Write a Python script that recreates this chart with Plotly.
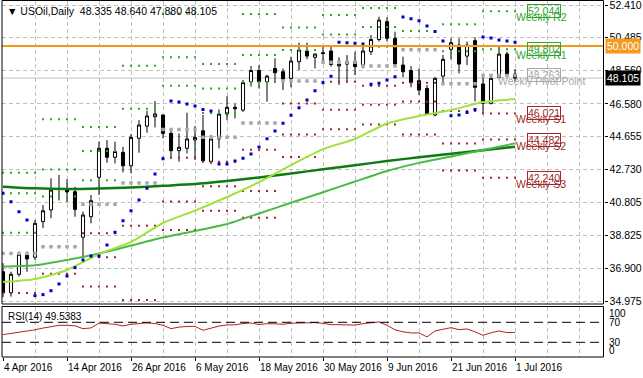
import plotly.graph_objects as go

W, H = 643, 378
def px(x): return x / W
def py(y): return 1 - y / H

FONT = "Liberation Sans, Arial, sans-serif"

# ---------------- data ----------------
date_labels = ["4 Apr 2016", "14 Apr 2016", "26 Apr 2016", "6 May 2016", "18 May 2016",
               "30 May 2016", "9 Jun 2016", "21 Jun 2016", "1 Jul 2016"]
date_label_bars = [0, 8, 16, 24, 32, 40, 48, 56, 64]

opens = [36.70, 35.46, 36.55, 37.68, 37.55,
         39.65, 40.34, 41.55, 41.55, 41.41,
         38.73, 39.94, 42.26, 43.97, 43.44,
         43.73, 42.94, 44.56, 45.28, 45.83,
         45.93, 44.85, 43.83, 43.97, 44.46,
         45.00, 43.18, 44.52, 45.99, 46.38,
         46.22, 47.89, 48.55, 47.89, 48.67,
         48.48, 48.09, 49.07, 49.70, 49.33,
         49.60, 49.70, 48.82, 48.93, 49.07,
         48.87, 49.66, 50.38, 51.43, 50.44,
         48.87, 48.55, 47.95, 47.50, 45.93,
         48.22, 49.80, 50.05, 49.40, 50.31,
         47.76, 46.62, 48.15, 49.52, 48.335]
highs = [37.20, 36.70, 37.88, 37.88, 39.75,
         40.63, 42.20, 42.40, 42.15, 41.70,
         40.24, 41.22, 44.36, 44.45, 44.36,
         44.06, 44.81, 45.63, 46.18, 46.75,
         45.95, 45.09, 44.85, 46.06, 45.28,
         45.93, 44.75, 46.26, 47.04, 46.60,
         48.00, 48.82, 48.87, 48.30, 49.27,
         48.67, 49.36, 50.19, 50.19, 49.55,
         49.96, 49.99, 49.33, 49.46, 49.66,
         50.05, 50.64, 51.72, 51.68, 50.84,
         49.36, 48.82, 48.67, 47.70, 48.15,
         49.46, 50.44, 50.44, 50.25, 50.505,
         48.15, 48.12, 50.05, 49.66, 48.640]
lows = [35.20, 35.23, 36.41, 36.70, 37.39,
        39.27, 39.85, 40.90, 40.80, 39.94,
        37.55, 39.55, 41.22, 43.12, 43.08,
        42.55, 42.50, 43.71, 44.89, 45.20,
        44.56, 43.38, 43.18, 43.67, 43.28,
        43.18, 43.04, 43.97, 45.63, 45.73,
        46.12, 47.60, 47.50, 46.71, 47.89,
        47.40, 47.56, 48.58, 49.21, 48.67,
        49.07, 48.78, 47.70, 47.89, 48.28,
        48.67, 49.46, 50.25, 50.25, 48.78,
        48.15, 47.56, 47.11, 45.93, 45.85,
        47.70, 49.21, 48.38, 48.87, 46.724,
        46.03, 46.55, 48.09, 48.22, 47.880]
closes = [35.45, 36.55, 37.73, 37.45, 39.55,
          40.29, 41.51, 41.60, 41.40, 40.37,
          40.04, 40.88, 43.97, 43.44, 43.78,
          42.94, 44.61, 45.34, 45.87, 45.99,
          44.85, 43.83, 44.03, 44.52, 44.61,
          43.24, 44.52, 45.99, 46.38, 46.30,
          47.84, 48.55, 47.89, 48.22, 48.42,
          48.05, 49.11, 49.76, 49.40, 49.52,
          49.55, 48.91, 48.93, 49.07, 48.78,
          49.70, 50.38, 51.52, 50.45, 48.93,
          48.48, 47.84, 47.40, 45.99, 48.09,
          49.21, 50.19, 48.93, 50.05, 47.56,
          46.62, 48.09, 49.52, 48.335, 48.105]

# previous week (28 Mar - 1 Apr) high / low / close for the first weekly pivot
prev_week_high, prev_week_low, prev_week_close = 40.11, 36.57, 36.66

sar = [41.32, 40.82, 40.23, 39.75, 35.29,
       35.35, 35.58, 35.98, 36.45, 36.94,
       37.39, 37.62, 37.62, 38.27, 39.02,
       39.70, 40.29, 40.92, 41.61, 42.45,
       43.36, 46.75, 46.69, 46.58, 46.46,
       46.26, 46.16, 43.04, 43.04, 43.22,
       43.38, 43.63, 44.05, 44.53, 44.99,
       45.44, 45.91, 46.36, 46.81, 47.36,
       47.83, 48.22, 50.21, 50.19, 50.15,
       50.12, 47.74, 47.80, 47.99, 48.18,
       51.70, 51.60, 51.48, 51.17, 50.85,
       50.29, 45.89, 45.93, 46.08, 46.26,
       50.52, 50.46, 50.35, 50.29, 50.21]

ma_bars = [0, 4, 8, 12, 16, 20, 24, 28, 32, 36, 40, 44, 48, 52, 56, 60, 64]
ma_slow = [41.71, 41.61, 41.57, 41.60, 41.66, 41.76, 41.86, 42.04, 42.25, 42.49,
           42.73, 42.97, 43.22, 43.44, 43.65, 43.86, 44.06]
ma_mid = [37.00, 37.08, 37.39, 37.77, 38.24, 38.71, 39.10, 39.51, 40.13, 40.76,
          41.38, 42.01, 42.63, 43.11, 43.49, 43.87, 44.26]
ma_fast = [36.09, 36.27, 36.80, 37.74, 38.45, 39.57, 40.30, 41.10, 41.98, 42.98,
           43.92, 44.52, 45.43, 45.87, 46.22, 46.69, 46.87]

rsi = [45.3, 47.5, 50.0, 52.0, 55.0, 58.5, 61.0, 64.0, 64.0, 63.0,
       57.3, 58.7, 68.5, 67.5, 66.0, 62.7, 66.0, 67.5, 68.7, 67.5,
       64.0, 57.3, 60.5, 61.5, 62.0, 54.0, 58.5, 62.5, 64.7, 65.0,
       67.5, 68.7, 65.5, 67.3, 67.0, 66.0, 68.2, 69.0, 69.2, 69.3,
       68.0, 65.3, 65.3, 64.8, 64.3, 67.3, 69.0, 70.7, 64.0, 55.0,
       51.0, 48.7, 48.7, 40.7, 52.7, 56.0, 59.3, 55.3, 56.7, 51.0,
       44.0, 49.0, 52.7, 49.5, 49.5383]

price_ticks = [52.410, 50.485, 48.560, 46.580, 44.655, 42.730, 40.805, 38.825, 36.900, 34.975]
rsi_levels = [70, 30]
hline_level = 50.000

bars = list(range(len(closes)))

# weekly pivots (from prior week H/L/C)
week_hlc = [(prev_week_high, prev_week_low, prev_week_close)]
for w in range(1, len(closes) // 5):
    seg_h = highs[5 * (w - 1):5 * w]
    seg_l = lows[5 * (w - 1):5 * w]
    week_hlc.append((max(seg_h), min(seg_l), closes[5 * w - 1]))

def pivots(h, l, c):
    pp = (h + l + c) / 3
    return {"R3": h + 2 * (pp - l), "R2": pp + (h - l), "R1": 2 * pp - l, "PP": pp,
            "S1": 2 * pp - h, "S2": pp - (h - l), "S3": l - 2 * (h - pp)}

lvl_names = ["R3", "R2", "R1", "PP", "S1", "S2", "S3"]
lvl_x = {k: [] for k in lvl_names}
lvl_y = {k: [] for k in lvl_names}
for w, (h, l, c) in enumerate(week_hlc):
    pv = pivots(h, l, c)
    for b in range(5 * w, 5 * w + 5):
        for k in lvl_names:
            lvl_x[k].append(b)
            lvl_y[k].append(pv[k])
last_pv = pivots(*week_hlc[-1])

# ---------------- colours ----------------
C_R = "#2FA52F"
C_S = "#9E2A2B"
C_PP = "#A8A8A8"
C_GRID = "#C0C0C0"

fig = go.Figure()

fig.add_trace(go.Candlestick(
    x=bars, open=opens, high=highs, low=lows, close=closes,
    increasing=dict(line=dict(color="black", width=1), fillcolor="white"),
    decreasing=dict(line=dict(color="black", width=1), fillcolor="black"),
    whiskerwidth=0, hoverinfo="skip", showlegend=False, xaxis="x", yaxis="y"))

for k in lvl_names:
    if k == "PP":
        col, size = C_PP, 3.5
    elif k.startswith("R"):
        col, size = C_R, 2
    else:
        col, size = C_S, 2
    fig.add_trace(go.Scatter(x=lvl_x[k], y=lvl_y[k], mode="markers",
                             marker=dict(symbol="square", size=size, color=col, line=dict(width=0)),
                             hoverinfo="skip", showlegend=False, xaxis="x", yaxis="y"))

fig.add_trace(go.Scatter(x=ma_bars, y=ma_slow, mode="lines",
                         line=dict(color="#0E7A12", width=2.5, shape="spline", smoothing=0.6),
                         hoverinfo="skip", showlegend=False))
fig.add_trace(go.Scatter(x=ma_bars, y=ma_mid, mode="lines",
                         line=dict(color="#4DBA45", width=2, shape="spline", smoothing=0.6),
                         hoverinfo="skip", showlegend=False))
fig.add_trace(go.Scatter(x=ma_bars, y=ma_fast, mode="lines",
                         line=dict(color="#9FE23A", width=2, shape="spline", smoothing=0.6),
                         hoverinfo="skip", showlegend=False))

fig.add_trace(go.Scatter(x=bars, y=sar, mode="markers",
                         marker=dict(symbol="square", size=3, color="#0000C8", line=dict(width=0)),
                         hoverinfo="skip", showlegend=False))

fig.add_trace(go.Scatter(x=bars, y=rsi, mode="lines", line=dict(color="#B0232A", width=1),
                         hoverinfo="skip", showlegend=False, xaxis="x2", yaxis="y2"))

# ---------------- axes ----------------
XR = [-0.125, 75.06]
PXU = 16.977
main_range = [34.975 - 3 / PXU, 52.41 + 4.5 / PXU]

grid = dict(showgrid=True, gridcolor=C_GRID, gridwidth=1, griddash="4px,3px")

fig.update_layout(
    width=W, height=H, margin=dict(l=0, r=0, t=0, b=0),
    paper_bgcolor="white", plot_bgcolor="white",
    boxgap=0.45, showlegend=False, hovermode=False,
    font=dict(family=FONT, size=10, color="black"),
    xaxis=dict(domain=[px(2), px(603.5)], range=XR, anchor="y",
               tickmode="linear", tick0=0, dtick=4, showticklabels=False, ticks="",
               zeroline=False, showline=False, rangeslider=dict(visible=False), **grid),
    yaxis=dict(domain=[py(304), py(0.5)], range=main_range, side="right", anchor="x",
               tickmode="array", tickvals=price_ticks,
               ticktext=[f"{v:.3f}" for v in price_ticks],
               ticks="outside", ticklen=3, tickcolor="black", ticklabeloverflow="allow",
               tickfont=dict(family=FONT, size=10.5, color="black"),
               zeroline=False, showline=False, automargin=False, **grid),
    xaxis2=dict(domain=[px(2), px(603.5)], range=XR, anchor="y2", matches="x",
                tickmode="array", tickvals=date_label_bars, ticktext=[""] * len(date_label_bars),
                ticks="outside", ticklen=3, tickcolor="black",
                showgrid=False, zeroline=False, showline=False,
                minor=dict(tickmode="linear", tick0=0, dtick=4, showgrid=True, gridcolor=C_GRID,
                           griddash="4px,3px", ticks="")),
    yaxis2=dict(domain=[py(357), py(306.5)], range=[0.6, 101.6], anchor="x2",
                showticklabels=False, ticks="", showgrid=False, zeroline=False, showline=False),
)

shapes = []
# bid line
shapes.append(dict(type="line", xref="x domain", x0=0, x1=1, yref="y", y0=closes[-1], y1=closes[-1],
                   line=dict(color="#C0C0C0", width=1), layer="below"))
# horizontal 50.000 line
shapes.append(dict(type="line", xref="x domain", x0=0, x1=1, yref="y", y0=hline_level, y1=hline_level,
                   line=dict(color="#F39A1E", width=2), layer="above"))
# RSI levels
for lv in rsi_levels:
    shapes.append(dict(type="line", xref="x2 domain", x0=0, x1=1, yref="y2", y0=lv, y1=lv,
                       line=dict(color="black", width=1, dash="9px,5px"), layer="above"))
# frames
shapes.append(dict(type="rect", xref="x domain", yref="y domain", x0=0, x1=1, y0=0, y1=1,
                   line=dict(color="black", width=1), layer="above"))
shapes.append(dict(type="rect", xref="x2 domain", yref="y2 domain", x0=0, x1=1, y0=0, y1=1,
                   line=dict(color="black", width=1), layer="above"))
fig.update_layout(shapes=shapes)

ann = []
# title
ann.append(dict(xref="paper", yref="paper", x=px(5), y=py(10.5), xanchor="left", yanchor="middle",
                text="\u25BC USOil,Daily\u00a0\u00a048.335 48.640 47.880 48.105", showarrow=False,
                font=dict(family=FONT, size=10.5, color="black")))
# RSI caption
ann.append(dict(xref="paper", yref="paper", x=px(6), y=py(316), xanchor="left", yanchor="middle",
                text=f"RSI(14) {rsi[-1]:.4f}", showarrow=False,
                font=dict(family=FONT, size=10, color="black")))
# RSI scale labels
for txt, yy in [("100", 313.5), ("70", 322.3), ("30", 342.3), ("0", 350.3)]:
    ann.append(dict(xref="paper", yref="paper", x=px(607), y=py(yy), xanchor="left", yanchor="middle",
                    text=txt, showarrow=False, font=dict(family=FONT, size=10, color="black")))
# date labels
for b, t in zip(date_label_bars, date_labels):
    ann.append(dict(xref="x2", yref="paper", x=b, y=py(367), xanchor="left", yanchor="middle",
                    xshift=-1, text=t, showarrow=False, font=dict(family=FONT, size=10, color="black")))
# price tags on axis
ann.append(dict(xref="paper", yref="y", x=px(605), y=hline_level, xanchor="left", yanchor="middle",
                text=f"{hline_level:.3f}", showarrow=False, bgcolor="#F39A1E", borderpad=1,
                font=dict(family=FONT, size=10.5, color="white")))
ann.append(dict(xref="paper", yref="y", x=px(605), y=closes[-1], xanchor="left", yanchor="middle",
                text=f"{closes[-1]:.3f}", showarrow=False, bgcolor="black", borderpad=1,
                font=dict(family=FONT, size=10.5, color="white")))
# weekly pivot labels
lab = [("R2", "Weekly R2", C_R), ("R1", "Weekly R1", C_R), ("PP", "Weekly Pivot Point", C_PP),
       ("S1", "Weekly S1", C_S), ("S2", "Weekly S2", C_S), ("S3", "Weekly S3", C_S)]
for k, name, col in lab:
    v = last_pv[k]
    ann.append(dict(xref="paper", yref="y", x=px(541), y=v, yshift=-6, xanchor="center",
                    yanchor="middle", text=name, showarrow=False,
                    font=dict(family=FONT, size=10.5, color=col)))
    ann.append(dict(xref="paper", yref="y", x=px(544), y=v, xanchor="center", yanchor="middle",
                    text=f"{v:.3f}", showarrow=False, bordercolor=col, borderwidth=1, borderpad=0,
                    font=dict(family=FONT, size=10.5, color=col)))
fig.update_layout(annotations=ann)

fig.write_html("out.html", config={"displayModeBar": False},
               post_script="document.body.style.margin='0px';document.body.style.overflow='hidden';")
